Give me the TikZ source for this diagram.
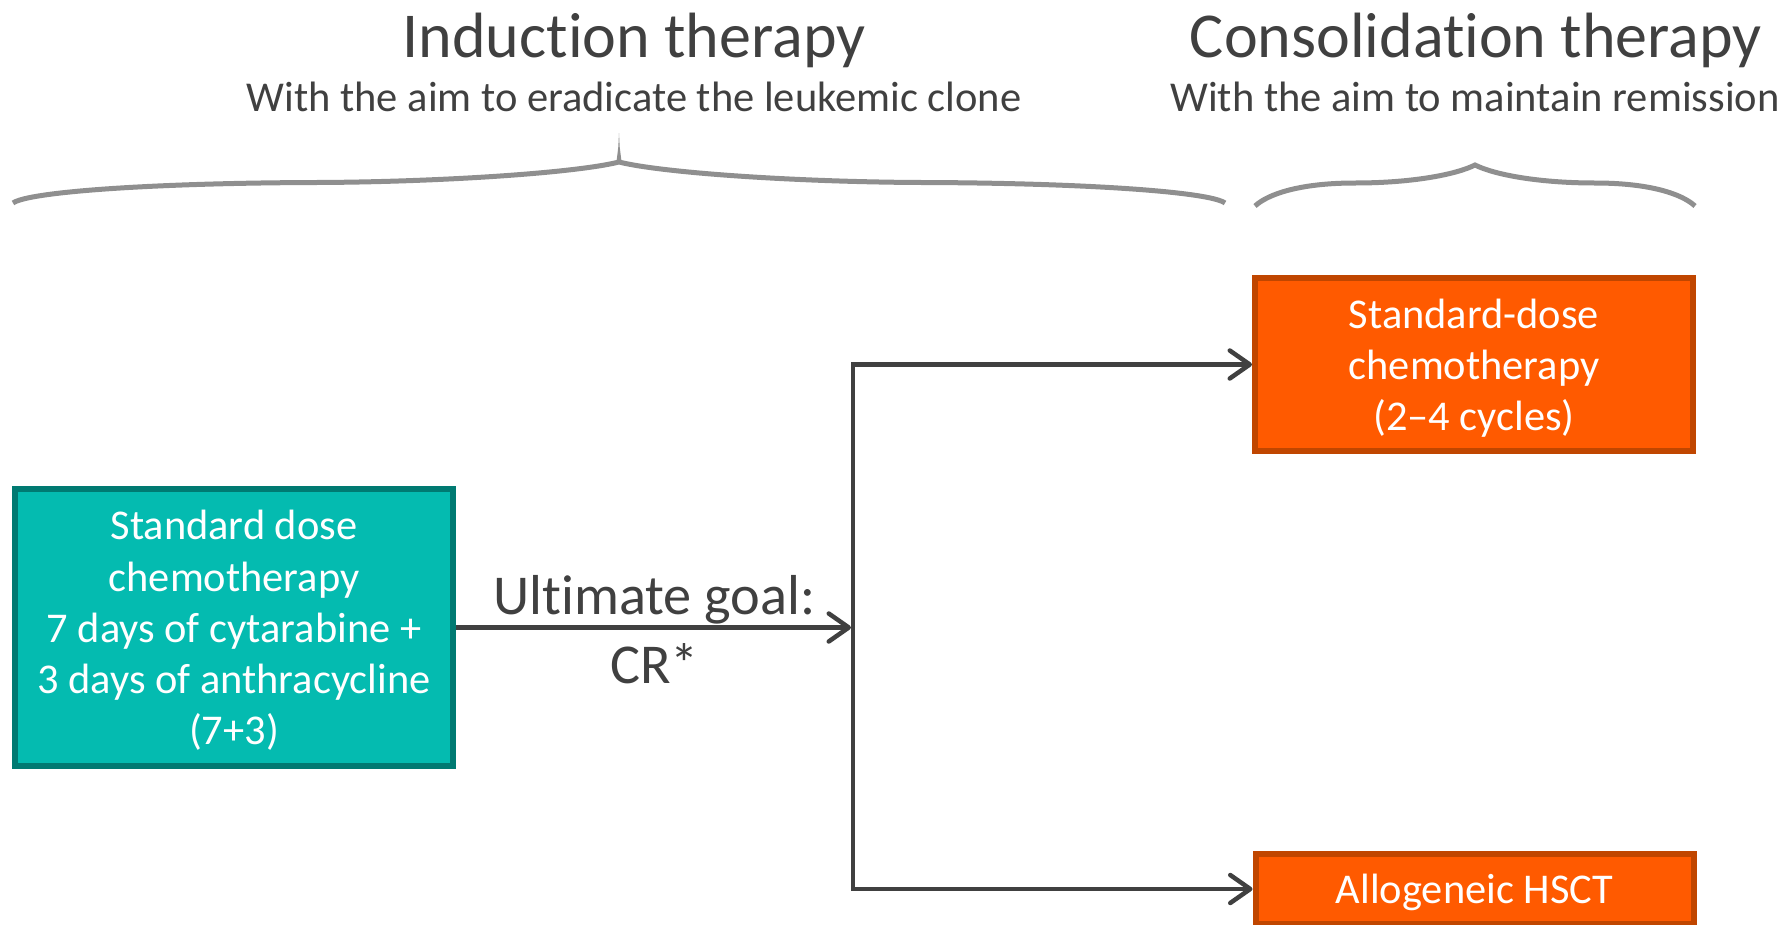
\documentclass[tikz,border=0pt]{standalone}
\usepackage{fontspec}
\setmainfont{Carlito}[Ligatures=NoCommon]
\usetikzlibrary{arrows.meta}
\definecolor{tealfill}{RGB}{4,187,176}
\definecolor{tealline}{RGB}{0,122,114}
\definecolor{orfill}{RGB}{255,90,0}
\definecolor{orline}{RGB}{192,70,0}
\definecolor{darkln}{RGB}{64,64,64}
\definecolor{bracegray}{RGB}{143,143,143}
\begin{document}
\begin{tikzpicture}[x=1pt,y=-1pt,
  box/.style={draw, line width=6pt, inner sep=0pt, align=center, text=white,
    text depth=0pt, font=\fontsize{42.4}{51.2}\selectfont},
  tealbox/.style={box, fill=tealfill, draw=tealline},
  orbox/.style={box, fill=orfill, draw=orline},
  conn/.style={draw=darkln, line width=4.5pt},
  arr/.style={conn, -{Straight Barb[length=20pt,width=28pt,round]}},
  title/.style={anchor=base, text=darkln, font=\fontsize{64}{77}\selectfont, inner sep=0pt},
  subtitle/.style={anchor=base, text=darkln, font=\fontsize{42.5}{51}\selectfont, inner sep=0pt},
  lbl/.style={text=darkln, align=center, inner sep=0pt, font=\fontsize{56.3}{69}\selectfont},
  brace/.style={draw=bracegray, line width=5pt}
]
\useasboundingbox (0,0) rectangle (1791,924);

% titles
\node[title] (t1) at (634,57) {Induction therapy};
\node[subtitle] (s1) at (634,111) {With the aim to eradicate the leukemic clone};
\node[title] (t2) at (1476,57) {Consolidation therapy};
\node[subtitle] (s2) at (1475,111) {With the aim to maintain remission};

% big brace
\draw[brace] (13,203) .. controls (28,192) and (150,183) .. (316,182.5)
  .. controls (440,182) and (575,173) .. (619,162)
  .. controls (663,173) and (798,182) .. (922,182.5)
  .. controls (1088,183) and (1210,192) .. (1225,203);
\fill[bracegray] (616.2,164) -- (618.3,147) -- (619,133) -- (619.7,147) -- (621.8,164) -- cycle;

% small brace
\draw[brace] (1255,206) .. controls (1268,194) and (1300,183) .. (1355,183)
  .. controls (1410,183) and (1455,175) .. (1475,165)
  .. controls (1495,175) and (1540,183) .. (1595,183)
  .. controls (1650,183) and (1682,194) .. (1695,206);

% boxes
\node[tealbox, minimum width=438pt, minimum height=277pt] (ind) at (234,627.5)
  {Standard dose\\chemotherapy\\7 days of cytarabine +\\3 days of anthracycline\\(7+3)};
\node[orbox, minimum width=438pt, minimum height=173pt] (sdc) at (1474,364.5)
  {Standard-dose\\chemotherapy\\(2–4 cycles)};
\node[orbox, minimum width=438pt, minimum height=70pt] (hsct) at (1474.5,889)
  {Allogeneic HSCT};

% connectors
\coordinate (jx) at (853,0);
\coordinate (j) at (ind.east -| jx);
\draw[arr, shorten >=2pt] (ind.east) -- node[lbl, yshift=-2pt] (goal) {Ultimate goal:\\CR*} (j);
\draw[arr] (j) |- (sdc.west);
\draw[arr] (j) |- (hsct.west);
\end{tikzpicture}
\end{document}
